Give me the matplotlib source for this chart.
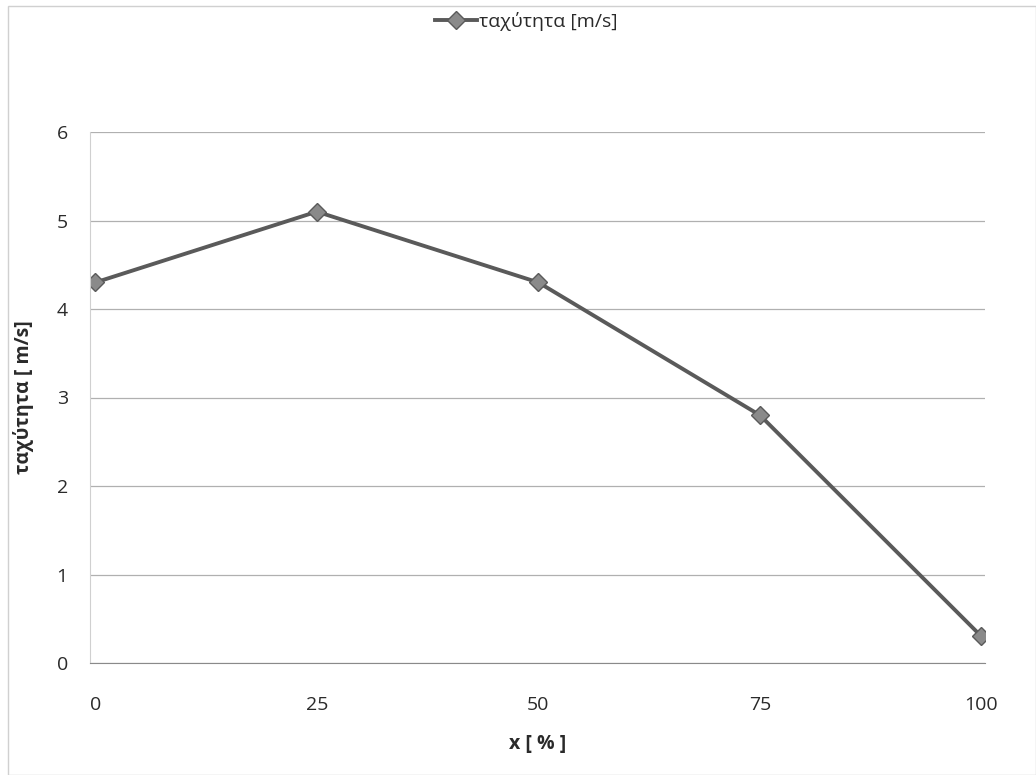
import matplotlib.pyplot as plt
from matplotlib.lines import Line2D
from matplotlib.patches import Rectangle

# data
x_pct = [0, 25, 50, 75, 100]
speed = [4.3, 5.1, 4.3, 2.8, 0.3]
y_ticks = [0, 1, 2, 3, 4, 5, 6]

plt.rcParams['font.family'] = ['Open Sans', 'DejaVu Sans']

fig = plt.figure(figsize=(10.36, 7.75), dpi=100)
ax = fig.add_axes([90/1036, 112/775, 895/1036, 531/775])

ax.plot(x_pct, speed, color='#5a5a5a', lw=2.8, marker='D', ms=9,
        mfc='#8a8a8a', mec='#5a5a5a', mew=1.0, label='ταχύτητα [m/s]')

ax.set_xlim(-0.6, 100.4)
ax.set_ylim(0, 6)
ax.set_yticks(y_ticks)
ax.set_xticks(x_pct)
ax.yaxis.grid(True, color='#b0b0b0', lw=0.9)
ax.set_axisbelow(True)
for s in ['top', 'right']:
    ax.spines[s].set_visible(False)
ax.spines['left'].set_color('#d0d0d0')
ax.spines['bottom'].set_color('#8a8a8a')
ax.tick_params(length=0, labelsize=14, colors='#2a2a2a', pad=16)
ax.tick_params(axis='x', pad=24)

ax.set_xlabel('x [ % ]', fontsize=14, fontweight='bold', color='#2a2a2a', labelpad=14)
ax.set_ylabel('ταχύτητα [ m/s]', fontsize=14, fontweight='bold', color='#2a2a2a', labelpad=16)

leg = fig.legend(handles=[Line2D([], [], color='#5a5a5a', lw=2.8, marker='D', ms=9,
                                 mfc='#8a8a8a', mec='#5a5a5a')],
                 labels=['ταχύτητα [m/s]'], loc='center', bbox_to_anchor=(0.508, 0.972),
                 frameon=False, fontsize=14, handlelength=2.2, handletextpad=0.1)
for t in leg.get_texts():
    t.set_color('#2a2a2a')

fig.patches.append(Rectangle((8/1036, 0), 1 - 8/1036, 1 - 6/775, transform=fig.transFigure,
                             fill=False, edgecolor='#d0d0d0', lw=1))

fig.savefig('out.png', dpi=100)
